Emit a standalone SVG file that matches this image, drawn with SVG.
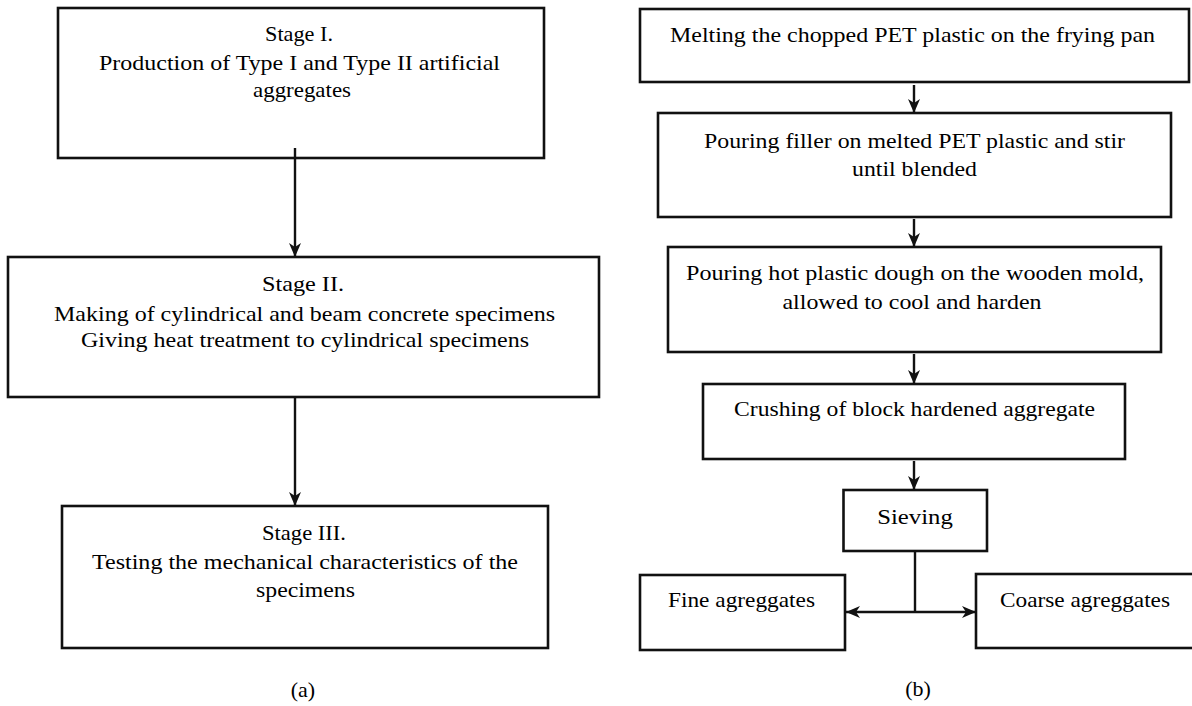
<svg xmlns="http://www.w3.org/2000/svg" width="1192" height="706" viewBox="0 0 1192 706">
<style>
  .box{fill:#fff;stroke:#111;stroke-width:2.6}
  .t{font-family:"Liberation Serif","Times New Roman",serif;font-size:22px;fill:#000;text-anchor:middle}
  .c{stroke:#111;stroke-width:2.4;fill:none}
</style>
<defs>
  <marker id="ah" viewBox="0 0 14 12" refX="14" refY="6" markerWidth="14" markerHeight="12" markerUnits="userSpaceOnUse" orient="auto-start-reverse">
    <path d="M0,0 L14,6 L0,12 L4,6 z" fill="#111"/>
  </marker>
</defs>
<rect width="1192" height="706" fill="#fff"/>

<g id="a-stage1">
  <rect class="box" x="58" y="8" width="486" height="150"/>
  <text class="t" x="299" y="41" textLength="68" lengthAdjust="spacingAndGlyphs">Stage I.</text>
  <text class="t" x="299.5" y="70" textLength="401" lengthAdjust="spacingAndGlyphs">Production of Type I and Type II artificial</text>
  <text class="t" x="302" y="97" textLength="98" lengthAdjust="spacingAndGlyphs">aggregates</text>
</g>
<g id="a-stage2">
  <rect class="box" x="8" y="257" width="591" height="140"/>
  <text class="t" x="303" y="291" textLength="82" lengthAdjust="spacingAndGlyphs">Stage II.</text>
  <text class="t" x="304.5" y="321" textLength="501" lengthAdjust="spacingAndGlyphs">Making of cylindrical and beam concrete specimens</text>
  <text class="t" x="305" y="347" textLength="448" lengthAdjust="spacingAndGlyphs">Giving heat treatment to cylindrical specimens</text>
</g>
<g id="a-stage3">
  <rect class="box" x="62" y="506" width="486" height="142"/>
  <text class="t" x="304" y="540" textLength="84" lengthAdjust="spacingAndGlyphs">Stage III.</text>
  <text class="t" x="305" y="569" textLength="426" lengthAdjust="spacingAndGlyphs">Testing the mechanical characteristics of the</text>
  <text class="t" x="305.5" y="597" textLength="99" lengthAdjust="spacingAndGlyphs">specimens</text>
</g>
<text id="label-a" class="t" x="303" y="697">(a)</text>

<g id="b-melt">
  <rect class="box" x="640" y="9" width="549" height="73"/>
  <text class="t" x="912.5" y="42" textLength="485" lengthAdjust="spacingAndGlyphs">Melting the chopped PET plastic on the frying pan</text>
</g>
<g id="b-filler">
  <rect class="box" x="658" y="113" width="513" height="104"/>
  <text class="t" x="914.5" y="148" textLength="421" lengthAdjust="spacingAndGlyphs">Pouring filler on melted PET plastic and stir</text>
  <text class="t" x="914.5" y="176" textLength="125" lengthAdjust="spacingAndGlyphs">until blended</text>
</g>
<g id="b-mold">
  <rect class="box" x="668" y="247" width="493" height="105"/>
  <text class="t" x="915" y="280" textLength="458" lengthAdjust="spacingAndGlyphs">Pouring hot plastic dough on the wooden mold,</text>
  <text class="t" x="912" y="309" textLength="259" lengthAdjust="spacingAndGlyphs">allowed to cool and harden</text>
</g>
<g id="b-crush">
  <rect class="box" x="703" y="384" width="422" height="75"/>
  <text class="t" x="914.5" y="416" textLength="361" lengthAdjust="spacingAndGlyphs">Crushing of block hardened aggregate</text>
</g>
<g id="b-sieve">
  <rect class="box" x="843.5" y="490" width="143.5" height="61"/>
  <text class="t" x="915" y="524" textLength="75.5" lengthAdjust="spacingAndGlyphs">Sieving</text>
</g>
<g id="b-fine">
  <rect class="box" x="640" y="575" width="205" height="75"/>
  <text class="t" x="741.5" y="607" textLength="147" lengthAdjust="spacingAndGlyphs">Fine agreggates</text>
</g>
<g id="b-coarse">
  <rect class="box" x="976" y="574" width="222" height="74"/>
  <text class="t" x="1085" y="607" textLength="170" lengthAdjust="spacingAndGlyphs">Coarse agreggates</text>
</g>
<text id="label-b" class="t" x="918" y="696">(b)</text>

<g id="connectors">
  <line class="c" x1="295" y1="148" x2="295" y2="257" marker-end="url(#ah)"/>
  <line class="c" x1="295" y1="397" x2="295" y2="506" marker-end="url(#ah)"/>
  <line class="c" x1="914" y1="85" x2="914" y2="113" marker-end="url(#ah)"/>
  <line class="c" x1="914" y1="219" x2="914" y2="247" marker-end="url(#ah)"/>
  <line class="c" x1="914" y1="354" x2="914" y2="384" marker-end="url(#ah)"/>
  <line class="c" x1="914" y1="461" x2="914" y2="490" marker-end="url(#ah)"/>
  <line class="c" x1="915" y1="551" x2="915" y2="612"/>
  <line class="c" x1="846" y1="612" x2="976" y2="612" marker-start="url(#ah)" marker-end="url(#ah)"/>
</g>
</svg>
